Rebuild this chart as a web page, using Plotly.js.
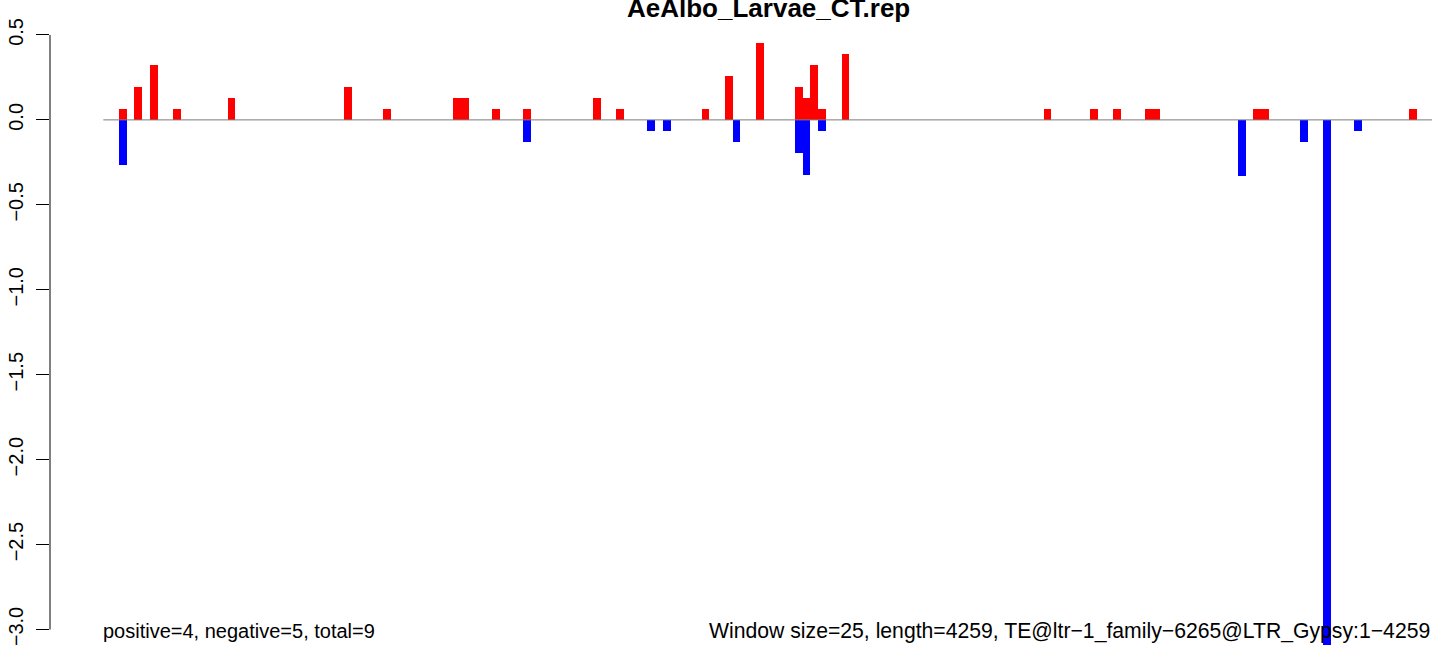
<!DOCTYPE html>
<html>
<head>
<meta charset="utf-8">
<script src="https://cdn.plot.ly/plotly-3.0.1.min.js"></script>
<style>html,body{margin:0;padding:0;background:#fff;}#chart{width:1433px;height:645px;}</style>
</head>
<body>
<div id="chart"></div>
<script>
// ---- data (window index -> value), window size 25 bp ----
const windowSize = 25;
const nWindows = 171;
const posWindows = [2,4,6,9,16,31,36,45,46,50,54,63,66,77,80,84,89,90,91,92,95,121,127,130,134,135,148,149,168];
const posValues  = [0.067,0.195,0.325,0.067,0.13,0.195,0.067,0.13,0.13,0.067,0.067,0.13,0.067,0.067,0.26,0.455,0.195,0.13,0.325,0.067,0.39,0.067,0.067,0.067,0.067,0.067,0.067,0.067,0.067];
const negWindows = [2,54,70,72,81,89,90,92,146,154,157,161];
const negValues  = [-0.265,-0.13,-0.067,-0.067,-0.13,-0.195,-0.325,-0.067,-0.33,-0.13,-3.2,-0.067];
const yTicks = [0.5,0,-0.5,-1,-1.5,-2,-2.5,-3];
const titleText = "AeAlbo_Larvae_CT.rep";
const leftNote = "positive=4, negative=5, total=9";
const rightNote = "Window size=25, length=4259, TE@ltr\u22121_family\u22126265@LTR_Gypsy:1\u22124259";

const toX = w => w * windowSize + windowSize / 2;

const font = "Liberation Sans, Arial, Helvetica, sans-serif";

const traces = [
  {type:'bar', x: posWindows.map(toX), y: posValues, width: windowSize,
   marker:{color:'#FF0000', line:{width:0}}, hoverinfo:'skip'},
  {type:'bar', x: negWindows.map(toX), y: negValues, width: windowSize,
   marker:{color:'#0000FF', line:{width:0}}, hoverinfo:'skip'}
];

const layout = {
  width:1433, height:645,
  margin:{l:50, r:0, t:11, b:0, pad:0},
  paper_bgcolor:'#fff', plot_bgcolor:'#fff',
  barmode:'overlay', bargap:0, showlegend:false,
  font:{family:font, size:20, color:'#000'},
  xaxis:{range:[-171.5, 4278], visible:false, showgrid:false, zeroline:false, fixedrange:true},
  yaxis:{range:[-3.091, 0.641], tickvals:yTicks, tickformat:'.1f', tickangle:-90,
         ticks:'outside', ticklen:13, tickwidth:1, tickcolor:'#000',
         showline:false, showgrid:false, zeroline:false,
         ticklabelstandoff:5, ticklabeloverflow:'allow',
         tickfont:{family:font, size:20, color:'#000'}},
  shapes:[
    {type:'line', xref:'paper', yref:'y', x0:0, x1:0, y0:-3, y1:0.5,
     line:{color:'#000', width:1}, layer:'above'},
    {type:'line', xref:'x', yref:'y', x0:0, x1:nWindows*windowSize, y0:0, y1:0,
     line:{color:'#7a7a7a', width:1}, layer:'above'}
  ],
  annotations:[
    {text:'<b>'+titleText+'</b>', xref:'x', yref:'paper', x:2140, y:1.0055,
     xanchor:'center', yanchor:'middle', showarrow:false,
     font:{family:font, size:26, color:'#000'}},
    {text:leftNote, xref:'x', yref:'y', x:-6, y:-3.01, xanchor:'left', yanchor:'middle',
     showarrow:false, font:{family:font, size:20, color:'#000'}},
    {text:rightNote, xref:'x', yref:'y', x:4275, y:-3.01, xanchor:'right', yanchor:'middle',
     showarrow:false, font:{family:font, size:21.2, color:'#000'}}
  ]
};

Plotly.newPlot('chart', traces, layout, {displayModeBar:false, staticPlot:true});
</script>
</body>
</html>
